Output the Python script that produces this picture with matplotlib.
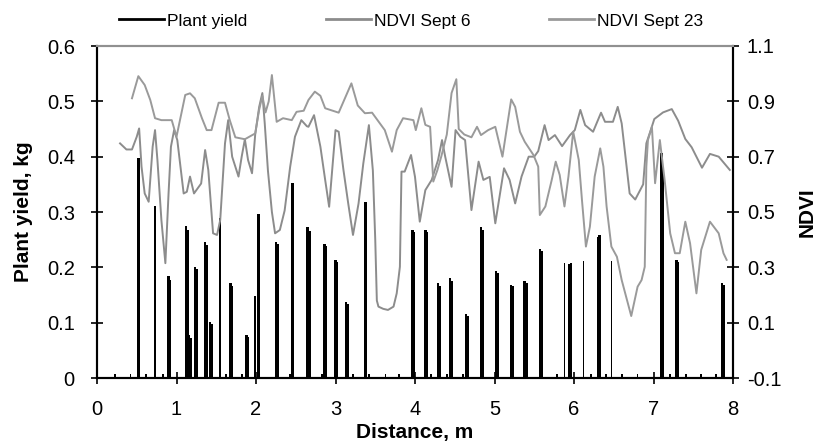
import matplotlib
matplotlib.use("Agg")
import matplotlib.pyplot as plt
from matplotlib.ticker import FuncFormatter

plt.rcParams['font.family'] = ['Liberation Sans', 'DejaVu Sans']
plt.rcParams['axes.unicode_minus'] = False

# plant yield (kg) at distance (m)
yield_x = [0.52, 0.73, 0.90, 0.92, 1.12, 1.14, 1.16, 1.18, 1.23, 1.25, 1.36, 1.38,
           1.42, 1.44, 1.55, 1.68, 1.70, 1.88, 1.90, 1.99, 2.03, 2.25, 2.27, 2.46,
           2.65, 2.67, 2.86, 2.88, 3.0, 3.02, 3.13, 3.15, 3.38, 3.97, 3.99, 4.13,
           4.15, 4.29, 4.31, 4.44, 4.46, 4.64, 4.66, 4.83, 4.85, 5.02, 5.04, 5.21,
           5.23, 5.38, 5.40, 5.57, 5.59, 5.94, 5.96, 6.30, 6.32, 7.10, 7.12, 7.29,
           7.31, 7.86, 7.88]
yield_kg = [0.397, 0.311, 0.184, 0.178, 0.275, 0.268, 0.077, 0.072, 0.201, 0.197, 0.245, 0.241,
            0.102, 0.098, 0.290, 0.171, 0.167, 0.078, 0.075, 0.148, 0.296, 0.246, 0.242, 0.352,
            0.273, 0.265, 0.243, 0.238, 0.214, 0.210, 0.138, 0.134, 0.318, 0.268, 0.263, 0.267,
            0.263, 0.171, 0.167, 0.181, 0.176, 0.116, 0.112, 0.273, 0.268, 0.194, 0.190, 0.168,
            0.166, 0.176, 0.172, 0.234, 0.230, 0.206, 0.208, 0.255, 0.258, 0.406, 0.370, 0.213,
            0.210, 0.171, 0.168]
# single thin stems
thin_x = [5.88, 6.12, 6.47]
thin_kg = [0.208, 0.212, 0.212]
# near-zero yields
tiny_x = [0.23, 0.42, 0.62, 0.83, 1.62, 1.82, 2.43, 2.83, 3.22, 3.42, 3.63, 3.80,
          4.20, 4.40, 4.60, 5.79, 6.21, 6.40, 6.60, 6.80, 7.21, 7.41, 7.60, 7.79]
tiny_kg = [0.008] * len(tiny_x)

sept6_x = [0.29, 0.37, 0.44, 0.50, 0.53, 0.56, 0.60, 0.65, 0.70, 0.73,
           0.76, 0.81, 0.86, 0.90, 0.93, 0.97, 1.01, 1.09, 1.13, 1.17,
           1.22, 1.31, 1.36, 1.40, 1.46, 1.51, 1.55, 1.61, 1.65, 1.70,
           1.78, 1.82, 1.86, 1.90, 1.95, 1.99, 2.04, 2.08, 2.11, 2.15,
           2.20, 2.24, 2.30, 2.36, 2.43, 2.49, 2.57, 2.64, 2.66, 2.73,
           2.81, 2.87, 2.92, 3.00, 3.04, 3.10, 3.16, 3.22, 3.29, 3.35,
           3.42, 3.47, 3.50, 3.52, 3.54, 3.60, 3.66, 3.73, 3.77, 3.81,
           3.83, 3.87, 3.95, 4.00, 4.06, 4.13, 4.21, 4.29, 4.34, 4.38,
           4.46, 4.51, 4.57, 4.63, 4.71, 4.80, 4.86, 4.94, 5.01, 5.12,
           5.19, 5.26, 5.34, 5.43, 5.50, 5.55, 5.63, 5.68, 5.76, 5.85,
           5.95, 6.01, 6.08, 6.14, 6.24, 6.34, 6.39, 6.49, 6.55, 6.60,
           6.70, 6.77, 6.87, 6.91, 6.97, 7.01, 7.12, 7.23, 7.31, 7.40,
           7.48, 7.61, 7.71, 7.82, 7.96]
sept6_ndvi = [0.748, 0.726, 0.726, 0.772, 0.802, 0.664, 0.567, 0.537, 0.736, 0.796,
              0.688, 0.471, 0.315, 0.567, 0.736, 0.796, 0.760, 0.567, 0.573, 0.628,
              0.567, 0.603, 0.724, 0.652, 0.423, 0.417, 0.471, 0.748, 0.832, 0.700,
              0.628, 0.700, 0.763, 0.688, 0.640, 0.780, 0.880, 0.930, 0.820, 0.650,
              0.500, 0.423, 0.435, 0.505, 0.664, 0.772, 0.832, 0.810, 0.808, 0.850,
              0.736, 0.616, 0.519, 0.796, 0.790, 0.652, 0.531, 0.417, 0.531, 0.676,
              0.814, 0.650, 0.400, 0.180, 0.158, 0.150, 0.146, 0.158, 0.206, 0.302,
              0.646, 0.646, 0.706, 0.627, 0.465, 0.579, 0.616, 0.688, 0.760, 0.700,
              0.591, 0.796, 0.772, 0.760, 0.507, 0.682, 0.616, 0.627, 0.459, 0.658,
              0.616, 0.531, 0.628, 0.700, 0.700, 0.720, 0.814, 0.760, 0.778, 0.738,
              0.778, 0.796, 0.869, 0.814, 0.790, 0.859, 0.826, 0.826, 0.880, 0.820,
              0.567, 0.545, 0.600, 0.748, 0.800, 0.836, 0.860, 0.872, 0.830, 0.764,
              0.734, 0.660, 0.710, 0.700, 0.652]

sept23_x = [0.44, 0.52, 0.60, 0.67, 0.73, 0.81, 0.94, 1.00, 1.11, 1.17,
            1.23, 1.32, 1.38, 1.44, 1.53, 1.61, 1.67, 1.74, 1.86, 1.99,
            2.04, 2.08, 2.12, 2.16, 2.20, 2.26, 2.34, 2.45, 2.51, 2.60,
            2.66, 2.74, 2.81, 2.87, 3.04, 3.20, 3.28, 3.37, 3.46, 3.62,
            3.71, 3.77, 3.85, 3.98, 4.01, 4.08, 4.13, 4.19, 4.23, 4.28,
            4.33, 4.40, 4.46, 4.52, 4.55, 4.62, 4.71, 4.78, 4.83, 4.92,
            5.01, 5.10, 5.21, 5.26, 5.32, 5.38, 5.49, 5.55, 5.57, 5.64,
            5.72, 5.77, 5.82, 5.88, 5.93, 5.99, 6.06, 6.10, 6.15, 6.20,
            6.26, 6.33, 6.37, 6.41, 6.47, 6.54, 6.60, 6.72, 6.80, 6.85,
            6.89, 6.91, 6.93, 6.98, 7.02, 7.08, 7.14, 7.21, 7.27, 7.33,
            7.40, 7.46, 7.54, 7.60, 7.71, 7.82, 7.88, 7.92]
sept23_ndvi = [0.911, 0.991, 0.959, 0.905, 0.839, 0.832, 0.832, 0.772, 0.923, 0.929,
               0.911, 0.839, 0.796, 0.796, 0.895, 0.895, 0.832, 0.770, 0.763, 0.784,
               0.870, 0.920, 0.860, 0.900, 0.995, 0.826, 0.839, 0.832, 0.862, 0.866,
               0.905, 0.935, 0.920, 0.875, 0.859, 0.965, 0.885, 0.857, 0.859, 0.796,
               0.718, 0.796, 0.839, 0.832, 0.796, 0.875, 0.815, 0.808, 0.610, 0.650,
               0.700, 0.780, 0.930, 0.980, 0.800, 0.780, 0.770, 0.808, 0.778, 0.796,
               0.808, 0.700, 0.907, 0.880, 0.790, 0.754, 0.706, 0.664, 0.489, 0.520,
               0.616, 0.682, 0.634, 0.520, 0.628, 0.790, 0.688, 0.544, 0.375, 0.447,
               0.628, 0.730, 0.664, 0.520, 0.375, 0.338, 0.254, 0.124, 0.230, 0.254,
               0.302, 0.664, 0.760, 0.808, 0.604, 0.760, 0.616, 0.423, 0.351, 0.351,
               0.465, 0.387, 0.206, 0.363, 0.465, 0.423, 0.351, 0.327]

fig = plt.figure(figsize=(8.22, 4.45), dpi=100)
ax = fig.add_axes([97 / 822, 1 - 378 / 445, 636 / 822, 332 / 445])
ax2 = ax.twinx()

ax.bar(yield_x, yield_kg, width=0.032, color='black', linewidth=0, zorder=2)
ax.bar(thin_x, thin_kg, width=0.014, color='black', linewidth=0, zorder=2)
ax.bar(tiny_x, tiny_kg, width=0.022, color='black', linewidth=0, zorder=2)

ax2.plot(sept6_x, sept6_ndvi, color='#8c8c8c', lw=1.4)
ax2.plot(sept23_x, sept23_ndvi, color='#9a9a9a', lw=1.4)

ax.set_xlim(0, 8)
ax.set_ylim(0, 0.6)
ax2.set_ylim(-0.1, 1.1)
ax.set_xticks(range(0, 9))
ax.set_yticks([0, 0.1, 0.2, 0.3, 0.4, 0.5, 0.6])
ax2.set_yticks([-0.1, 0.1, 0.3, 0.5, 0.7, 0.9, 1.1])
ax.yaxis.set_major_formatter(FuncFormatter(lambda v, p: '0' if abs(v) < 1e-9 else '%.1f' % v))
ax2.yaxis.set_major_formatter(FuncFormatter(lambda v, p: '%.1f' % v))

for a in (ax, ax2):
    a.spines['top'].set_color('#909090')
    a.spines['top'].set_linewidth(1.5)
    for s in ('left', 'right', 'bottom'):
        a.spines[s].set_linewidth(1.5)
    a.tick_params(direction='inout', length=8, width=1.2, labelsize=14.5)
ax.tick_params(axis='y', pad=12)
ax.tick_params(axis='x', pad=12)
ax2.tick_params(axis='y', pad=6)

ax.set_xlabel('Distance, m', fontsize=15, fontweight='bold', labelpad=3)
ax.set_ylabel('Plant yield, kg', fontsize=15, fontweight='bold', labelpad=10)
ax2.set_ylabel('NDVI', fontsize=15, fontweight='bold', labelpad=12)

h1 = plt.Line2D([], [], color='black', lw=2)
h2 = plt.Line2D([], [], color='#8c8c8c', lw=2)
h3 = plt.Line2D([], [], color='#9a9a9a', lw=2)
fig.legend([h1, h2, h3], ['Plant yield', 'NDVI Sept 6', 'NDVI Sept 23'],
           loc='upper center', bbox_to_anchor=(0.5, 1.005), ncol=3, frameon=False,
           fontsize=12.5, handlelength=2.6, handletextpad=0.2, columnspacing=4.5)

fig.savefig('out.png', dpi=100)
